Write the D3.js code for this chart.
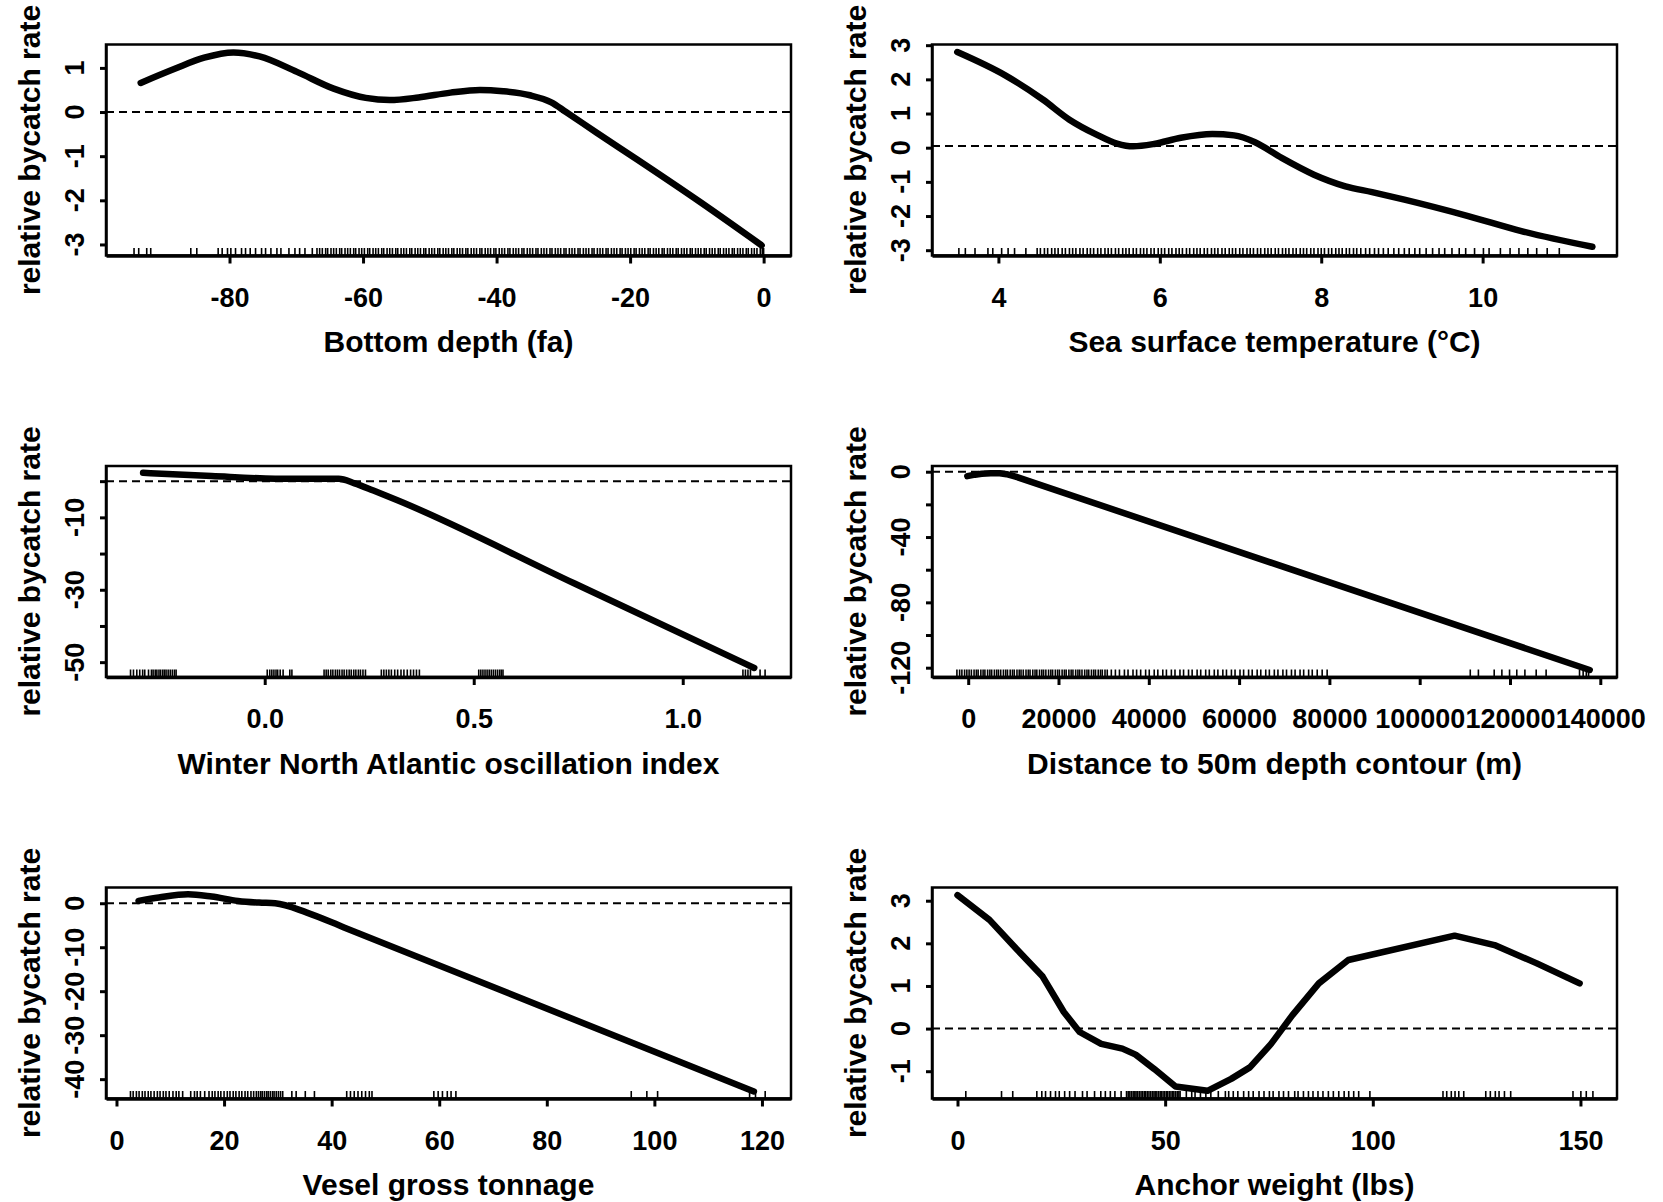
<!DOCTYPE html>
<html>
<head>
<meta charset="UTF-8">
<title>relative bycatch rate</title>
<script src="https://cdn.jsdelivr.net/npm/d3@7"></script>
<style>
body { margin: 0; background: #fff; }
text { font-family: "Liberation Sans", Arial, Helvetica, sans-serif; font-weight: bold; fill: #000; }
</style>
</head>
<body>
<svg id="fig" width="1663" height="1202"></svg>
<script>
var yTitle = "relative bycatch rate";

// bottom depth (fa)
var depthX = [-93.3,-88.2,-83.8,-79.4,-75.5,-69.9,-64.4,-59.6,-56.0,-51.7,-46.9,-42.5,-39.0,-35.0,-31.8,-29.6,-25.0,-19.0,-9.4,-0.3];
var depthY = [0.66,0.98,1.23,1.35,1.26,0.91,0.53,0.32,0.27,0.33,0.44,0.50,0.47,0.38,0.22,0.00,-0.47,-1.07,-2.05,-3.02];
var depthRug = [-94.3,-93.6,-92.4,-91.8,-85.8,-84.9,-81.7,-81.1,-80.3,-79.8,-79.1,-78.2,-77.6,-76.9,-76.1,-75.2,-74.6,-73.8,-72.9,-72.3,-71.1,-70.2,-69.5,-68.7,-67.6,-66.9,
  -66.5,-66.1,-65.6,-65.3,-64.8,-64.4,-64.0,-63.5,-63.2,-62.7,-62.3,-61.9,-61.4,-61.1,-60.6,-60.2,-59.8,-59.3,-59.0,-58.5,-58.1,-57.7,-57.2,-56.9,-56.4,-56.0,-55.6,-55.1,-54.8,-54.3,-53.9,-53.5,-53.0,-52.7,-52.2,-51.8,-51.4,-50.9,-50.6,-50.1,-49.7,-49.3,-48.8,-48.5,-48.0,-47.6,-47.2,-46.7,-46.4,-45.9,-45.5,-45.1,-44.6,-44.3,-43.8,-43.4,-43.0,-42.5,-42.2,-41.7,-41.3,-40.9,-40.4,-40.1,-39.6,-39.2,-38.8,-38.3,-38.0,-37.5,-37.1,-36.7,-36.2,-35.9,-35.4,-35.0,-34.6,-34.1,-33.8,-33.3,-32.9,-32.5,-32.0,-31.7,-31.2,-30.8,-30.4,-29.9,-29.6,-29.1,-28.7,-28.3,-27.8,-27.5,-27.0,-26.6,-26.2,-25.7,-25.4,-24.9,-24.5,-24.1,-23.6,-23.3,-22.8,-22.4,-22.0,-21.5,-21.2,-20.7,-20.3,-19.9,-19.4,-19.1,-18.6,-18.2,-17.8,-17.3,-17.0,-16.5,-16.1,-15.7,-15.2,-14.9,-14.4,-14.0,-13.6,-13.1,-12.8,-12.3,-11.9,-11.5,-11.0,-10.7,-10.2,-9.8,-9.4,-8.9,-8.6,-8.1,-7.7,-7.3,-6.8,-6.5,-6.0,-5.6,-5.2,-4.7,-4.4,-3.9,-3.5,-3.1,-2.6,-2.3,-1.8,-1.4,-1.0,-0.5,-0.2,0.0];
var depthTicks = [-80,-60,-40,-20,0];
var depthYTicks = [1,0,-1,-2,-3];
var depthYLabels = ["1","0","-1","-2","-3"];

// sea surface temperature
var sstX = [3.49,4.09,4.55,4.88,5.21,5.47,5.67,5.93,6.26,6.65,6.92,7.18,7.51,7.91,8.30,8.63,9.03,9.82,10.48,11.36];
var sstY = [2.80,2.11,1.41,0.82,0.39,0.12,0.04,0.11,0.29,0.40,0.36,0.16,-0.30,-0.79,-1.13,-1.30,-1.52,-2.00,-2.44,-2.90];
var sstRug = [3.51,3.59,3.71,3.87,3.93,4.04,4.12,4.20,4.34,
  4.48,4.52,4.57,4.61,4.66,4.70,4.74,4.79,4.83,4.88,4.92,4.96,5.01,5.05,5.10,5.14,5.18,5.23,5.27,5.32,5.36,5.40,5.45,5.49,5.54,5.58,5.62,5.67,5.71,5.76,5.80,5.84,5.89,5.93,5.98,6.02,6.06,6.11,6.15,6.20,6.24,6.28,6.33,6.37,6.42,6.46,6.50,6.55,6.59,6.64,6.68,6.72,6.77,6.81,6.86,6.90,6.94,6.99,7.03,7.08,7.12,7.16,7.21,7.25,7.30,7.34,7.38,7.43,7.47,7.52,7.56,7.60,7.65,7.69,7.74,7.78,7.82,7.87,7.91,7.96,8.00,8.04,8.09,8.13,8.18,8.22,8.26,8.31,8.35,8.40,8.44,8.49,8.55,8.60,8.66,8.71,8.77,8.83,8.90,8.96,9.03,9.09,9.16,9.22,9.30,9.38,
  9.46,9.53,9.62,9.71,9.79,9.90,10.01,10.08,10.22,10.34,10.45,10.56,10.67,10.80,10.95];
var sstTicks = [4,6,8,10];
var sstYTicks = [3,2,1,0,-1,-2,-3];
var sstYLabels = ["3","2","1","0","-1","-2","-3"];

// winter NAO index
var naoX = [-0.291,-0.127,0.025,0.177,0.215,0.260,0.316,0.740,1.171];
var naoY = [2.3,1.4,0.7,0.64,-0.6,-2.6,-5.2,-28.2,-51.6];
var naoRug = [-0.321,-0.314,-0.306,-0.299,-0.292,-0.287,-0.278,-0.271,-0.267,-0.262,-0.258,-0.253,-0.249,-0.244,-0.240,-0.236,-0.231,-0.226,-0.221,-0.216,-0.212,0.006,0.012,0.017,0.022,0.027,0.031,0.037,0.044,0.060,0.065,0.142,0.147,0.152,0.158,0.163,0.169,0.174,0.179,0.185,0.190,0.196,0.202,0.207,0.213,0.218,0.224,0.229,0.235,0.241,0.279,0.285,0.291,0.297,0.303,0.311,0.318,0.326,0.333,0.341,0.349,0.356,0.363,0.370,0.512,0.517,0.522,0.527,0.532,0.537,0.542,0.547,0.552,0.557,0.562,0.566,0.570,1.144,1.150,1.156,1.162,1.185,1.197];
var naoTicks = [0.0,0.5,1.0];
var naoYTicks = [0,-10,-20,-30,-40,-50];
var naoYLabels = ["","-10","","-30","","-50"];

// distance to 50m depth contour
var distX = [-200,1500,3000,5000,7000,8500,10500,137650];
var distY = [-2.7,-1.8,-1.3,-1.0,-0.95,-1.5,-3.0,-121.4];
var distRug = [-2500,-1900,-1400,-800,-300,200,700,1300,1800,2200,2800,3300,3700,4300,4800,5200,5800,6300,6700,7200,7800,8300,8700,9300,9800,10200,10800,11300,11700,12200,12800,13300,13700,14300,14800,15200,15800,16300,16700,17200,17800,18300,18700,19300,19800,20200,20800,21300,21700,22300,22800,23200,23800,24300,24700,25200,25800,26300,26700,27300,27800,28200,28800,29300,29700,30300,30800,31700,32600,33500,34600,35400,36500,37300,38200,39300,40100,41200,42000,43100,43900,45000,45800,46900,47700,48800,49600,50700,51500,52600,53400,54500,55300,56400,57200,58300,59100,60200,61000,62100,62900,64000,64800,65900,66700,67800,68600,69700,70500,71600,72400,73500,74300,75400,76200,77300,78400,79500,111200,113000,116500,118200,119900,121500,123300,125800,128000,135400,136200,136900,137400];
var distTicks = [0,20000,40000,60000,80000,100000,120000,140000];
var distYTicks = [0,-20,-40,-60,-80,-100,-120];
var distYLabels = ["0","","-40","","-80","","-120"];

// vessel gross tonnage
var tonX = [4.1,7.9,13.3,17.7,22.6,26.5,29.5,35.4,42.3,118.5];
var tonY = [0.53,1.3,2.06,1.52,0.53,0.15,0.0,-2.13,-5.5,-42.8];
var tonRug = [2.6,3.1,3.7,4.2,4.8,5.3,5.9,6.4,7.0,7.6,8.1,8.7,9.2,9.8,10.5,11.1,11.6,12.3,13.8,14.5,15.0,15.6,16.4,17.2,17.8,18.3,18.9,19.4,20.0,20.6,21.1,21.7,22.2,22.8,23.3,23.9,24.4,25.0,25.5,26.0,26.4,26.8,27.1,27.5,27.9,28.2,28.6,29.0,29.3,29.7,30.1,30.5,30.9,32.6,33.4,35.1,36.8,42.8,43.5,44.2,44.9,45.6,46.3,47.0,47.5,59.0,59.8,60.6,61.5,62.2,63.1,95.7,98.6,100.6,117.7,118.8,120.6];
var tonTicks = [0,20,40,60,80,100,120];
var tonYTicks = [0,-10,-20,-30,-40];
var tonYLabels = ["0","-10","-20","-30","-40"];

// anchor weight (lbs)
var anchorX = [0,7.7,14.1,20.5,25.6,29.4,34.6,39.7,42.9,47.4,52.5,60.2,65.9,70.4,75.5,80.6,87.0,94.1,119.7,129.3,139.5,149.8];
var anchorY = [3.13,2.55,1.88,1.22,0.39,-0.08,-0.36,-0.47,-0.61,-0.95,-1.36,-1.46,-1.18,-0.91,-0.36,0.31,1.06,1.61,2.18,1.96,1.53,1.06];
var anchorRug = [2.0,10.6,13.3,19.1,20.3,21.2,22.4,23.6,24.5,25.8,27.0,28.3,30.1,31.2,33.0,34.5,35.6,36.8,37.9,39.4,40.7,41.1,41.5,41.9,42.3,42.7,43.0,43.4,43.8,44.2,44.6,45.0,45.3,45.7,46.1,46.5,46.9,47.3,47.6,48.0,48.4,48.8,49.1,49.5,49.9,50.3,50.6,51.0,51.4,51.8,52.1,52.5,52.9,53.3,53.6,55.1,56.4,57.2,58.5,59.8,61.0,62.8,64.5,65.3,66.4,67.5,68.9,70.1,71.2,72.6,73.8,75.1,76.0,77.4,78.5,79.7,81.2,82.0,83.3,84.5,85.6,86.8,88.0,89.3,90.5,91.8,93.1,94.2,95.4,96.6,99.3,116.9,117.8,118.9,119.8,120.7,121.9,127.2,128.3,129.5,130.4,131.7,133.2,148.2,150.1,151.4,153.0];
var anchorTicks = [0,50,100,150];
var anchorYTicks = [3,2,1,0,-1];
var anchorYLabels = ["3","2","1","0","-1"];

var panels = [
  {title:"Bottom depth (fa)", cx:depthX, cy:depthY, rug:depthRug, xt:depthTicks, yt:depthYTicks, yl:depthYLabels,
   xdom:[-98.5,4.1], ydom:[-3.25,1.53], ref:0, fmt:function(d){return String(d);}, curve:d3.curveMonotoneX},
  {title:"Sea surface temperature (\u00B0C)", cx:sstX, cy:sstY, rug:sstRug, xt:sstTicks, yt:sstYTicks, yl:sstYLabels,
   xdom:[3.177,11.665], ydom:[-3.155,3.02], ref:0.05, fmt:function(d){return String(d);}, curve:d3.curveMonotoneX},
  {title:"Winter North Atlantic oscillation index", cx:naoX, cy:naoY, rug:naoRug, xt:naoTicks, yt:naoYTicks, yl:naoYLabels,
   xdom:[-0.3797,1.259], ydom:[-54.1,4.19], ref:0, fmt:function(d){return d.toFixed(1);}, curve:d3.curveMonotoneX},
  {title:"Distance to 50m depth contour (m)", cx:distX, cy:distY, rug:distRug, xt:distTicks, yt:distYTicks, yl:distYLabels,
   xdom:[-8018,143699], ydom:[-125.7,3.5], ref:0, fmt:function(d){return String(d);}, curve:d3.curveLinear},
  {title:"Vesel gross tonnage", cx:tonX, cy:tonY, rug:tonRug, xt:tonTicks, yt:tonYTicks, yl:tonYLabels,
   xdom:[-1.95,125.4], ydom:[-44.4,3.58], ref:0, fmt:function(d){return String(d);}, curve:d3.curveMonotoneX},
  {title:"Anchor weight (lbs)", cx:anchorX, cy:anchorY, rug:anchorRug, xt:anchorTicks, yt:anchorYTicks, yl:anchorYLabels,
   xdom:[-6.14,158.8], ydom:[-1.64,3.31], ref:0, fmt:function(d){return String(d);}, curve:d3.curveLinear}
];

var svg = d3.select("#fig");
var colX = [0, 826], rowY = [0, 421.5, 843];
var L = 106, R = 791, T = 44.5, B = 255.5;

panels.forEach(function(p, i) {
  var g = svg.append("g")
             .attr("transform", "translate(" + colX[i % 2] + "," + rowY[Math.floor(i / 2)] + ")");
  var x = d3.scaleLinear().domain(p.xdom).range([L, R]);
  var y = d3.scaleLinear().domain(p.ydom).range([B, T]);

  // dashed reference line
  g.append("line")
   .attr("x1", L).attr("x2", R)
   .attr("y1", y(p.ref)).attr("y2", y(p.ref))
   .attr("stroke", "#000").attr("stroke-width", 2)
   .attr("stroke-dasharray", "8,5");

  // rug
  g.append("g").selectAll("line").data(p.rug).join("line")
   .attr("x1", function(d) { return x(d); })
   .attr("x2", function(d) { return x(d); })
   .attr("y1", B).attr("y2", B - 7.5)
   .attr("stroke", "#000").attr("stroke-width", 1.6);

  // fitted smooth
  var line = d3.line()
               .x(function(d) { return x(d[0]); })
               .y(function(d) { return y(d[1]); })
               .curve(p.curve);
  g.append("path")
   .attr("d", line(d3.zip(p.cx, p.cy)))
   .attr("fill", "none").attr("stroke", "#000")
   .attr("stroke-width", 6.5)
   .attr("stroke-linecap", "round").attr("stroke-linejoin", "round");

  // box
  g.append("rect")
   .attr("x", L).attr("y", T).attr("width", R - L).attr("height", B - T)
   .attr("fill", "none").attr("stroke", "#000").attr("stroke-width", 2.5);

  // x axis
  var xa = g.append("g").attr("transform", "translate(0," + B + ")")
            .call(d3.axisBottom(x).tickValues(p.xt).tickSize(8).tickSizeOuter(0)
                  .tickPadding(24).tickFormat(p.fmt));
  xa.attr("font-family", null).attr("font-size", null);
  xa.select(".domain").attr("stroke-width", 3.5);
  xa.selectAll(".tick line").attr("stroke-width", 3);
  xa.selectAll(".tick text").style("font-size", "27px");

  // y axis (labels rotated, parallel to axis)
  var ya = g.append("g").attr("transform", "translate(" + L + ",0)")
            .call(d3.axisLeft(y).tickValues(p.yt).tickSize(6).tickSizeOuter(0).tickFormat(""));
  ya.select(".domain").attr("stroke-width", 2.5);
  ya.selectAll(".tick line").attr("stroke-width", 3);
  g.append("g").selectAll("text").data(p.yt).join("text")
   .attr("transform", function(d) { return "translate(84," + y(d) + ") rotate(-90)"; })
   .attr("text-anchor", "middle")
   .style("font-size", "27px")
   .text(function(d, k) { return p.yl[k]; });

  // axis titles
  g.append("text")
   .attr("x", (L + R) / 2).attr("y", 352)
   .attr("text-anchor", "middle")
   .style("font-size", "30px")
   .text(p.title);
  g.append("text")
   .attr("transform", "translate(40," + (T + B) / 2 + ") rotate(-90)")
   .attr("text-anchor", "middle")
   .style("font-size", "30px")
   .text(yTitle);
});
</script>
</body>
</html>
